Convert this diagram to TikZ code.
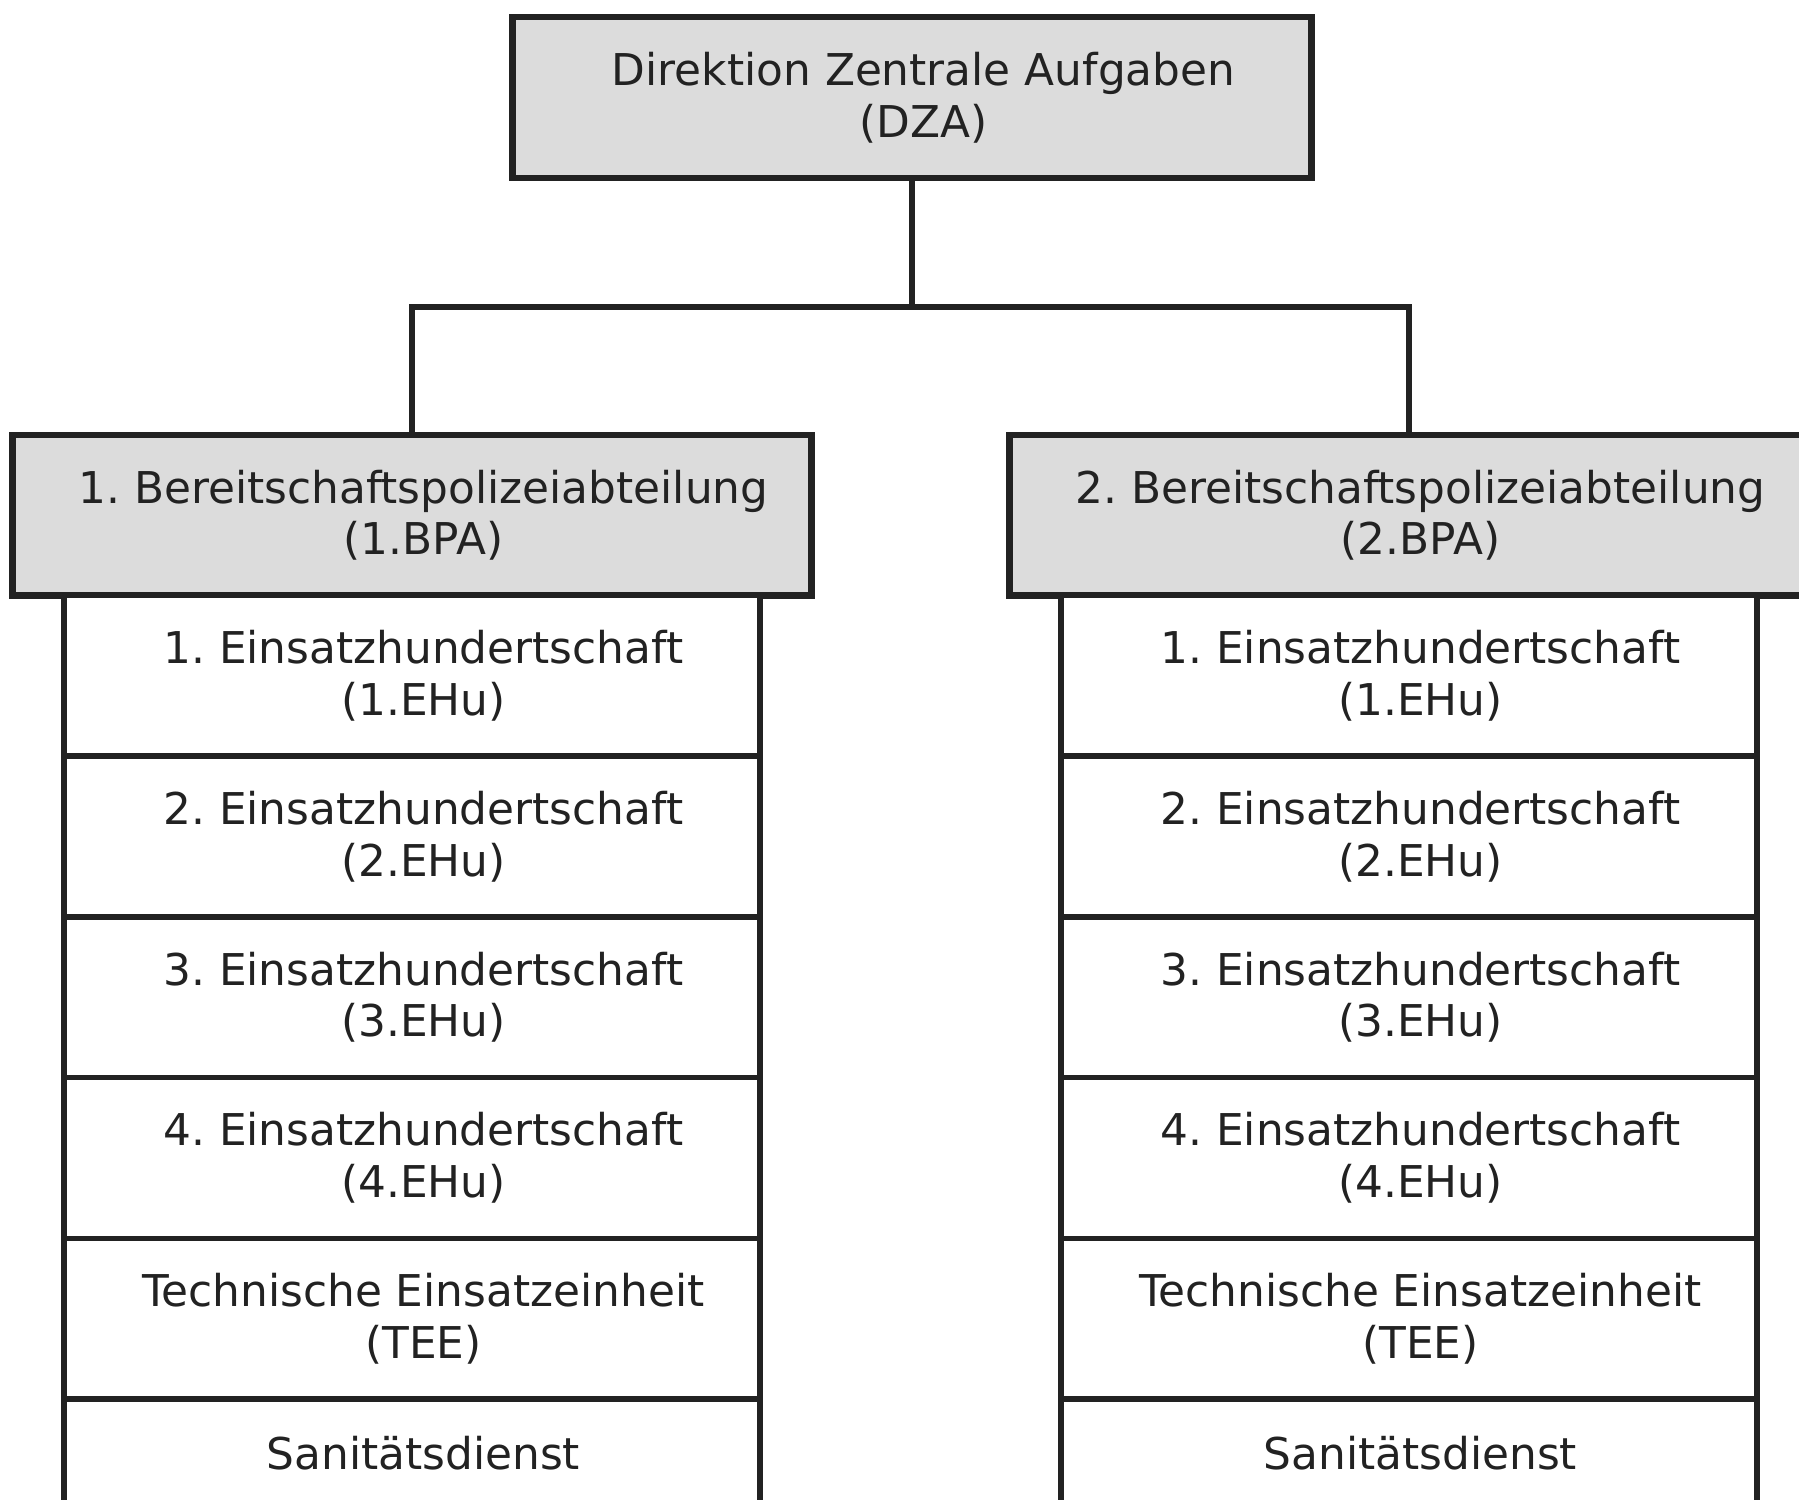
\documentclass[tikz,border=0pt]{standalone}
\usepackage{fontspec}
\setmainfont{DejaVu Sans}
\usetikzlibrary{positioning}
\frenchspacing
\definecolor{boxgray}{RGB}{220,220,220}
\definecolor{inkgray}{RGB}{34,34,34}
\tikzset{
    head/.style = {draw=inkgray, line width=1.6pt, fill=boxgray, outer sep=0pt,
                   minimum width=6.96cm, minimum height=1.4cm},
    unit/.style = {draw=inkgray, line width=1.4pt, fill=white, outer sep=0pt,
                   minimum width=6.06cm, minimum height=1.4cm},
    txt/.style = {align=center, xshift=0.1cm, text=inkgray,
                  font=\fontsize{10.86}{12.8}\selectfont},
    boxtext/.style = {label={[txt]center:{#1}}},
    link/.style = {draw=inkgray, line width=1.5pt}
}

\begin{document}
\begin{tikzpicture}[x=0.01cm, y=-0.01cm]
    \useasboundingbox (0,0) rectangle (1568,1307);
    \clip (0,0) rectangle (1568,1307);
    \node[head, boxtext={Direktion Zentrale Aufgaben\\(DZA)}] (dza) at (795,85) {};
    \foreach \side/\xpos in {1/359, 2/1228} {
        \node[head, boxtext={\side. Bereitschaftspolizeiabteilung\\(\side.BPA)}] (bpa\side) at (\xpos,449) {};
        \node[unit, below=0pt of bpa\side, boxtext={1. Einsatzhundertschaft\\(1.EHu)}] (ehu\side-1) {};
        \foreach \k [evaluate=\k as \prev using int(\k-1)] in {2,3,4}
            \node[unit, below=0pt of ehu\side-\prev, boxtext={\k. Einsatzhundertschaft\\(\k.EHu)}] (ehu\side-\k) {};
        \node[unit, below=0pt of ehu\side-4, boxtext={Technische Einsatzeinheit\\(TEE)}] (tee\side) {};
        \node[unit, minimum height=0.94cm, below=0pt of tee\side, boxtext={Sanitätsdienst}] (san\side) {};
    }
    \coordinate (fork) at (795,268);
    \draw[link] (dza.south) -- (fork);
    \draw[link] (bpa1.north) |- (fork) -| (bpa2.north);
\end{tikzpicture}
\end{document}
